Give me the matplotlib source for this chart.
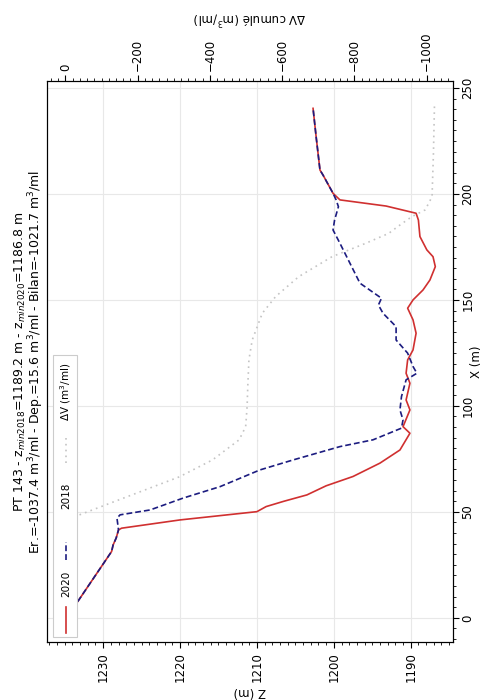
import matplotlib
matplotlib.use("Agg")
import matplotlib.pyplot as plt
from matplotlib.ticker import MultipleLocator
from matplotlib.lines import Line2D
from matplotlib.patches import Rectangle

# ---- data (X in m, Z in m, dV in m3/ml) ----
x_2020 = [7.7, 31.3, 34.4, 37.7, 41.5, 42.3, 46.2, 50.1, 52.5, 55.0, 58.0, 62.3, 66.7, 73.0,
          79.2, 87.1, 90.2, 98.1, 102.8, 110.7, 115.4, 121.7, 126.4, 134.3, 140.6, 146.1,
          150.0, 154.7, 159.4, 165.7, 170.4, 173.6, 179.9, 187.7, 190.9, 194.3, 197.2,
          200.3, 208.9, 211.3, 227.0, 240.4]
z_2020 = [1233.3, 1228.9, 1228.7, 1228.3, 1228.0, 1227.6, 1220.0, 1210.0, 1208.8, 1206.5,
          1203.5, 1201.0, 1197.5, 1194.0, 1191.4, 1190.1, 1191.0, 1190.1, 1190.6, 1190.1,
          1190.6, 1190.4, 1189.7, 1189.3, 1189.7, 1190.4, 1189.7, 1188.4, 1187.5, 1186.8,
          1187.1, 1187.9, 1188.8, 1189.0, 1189.3, 1193.2, 1199.2, 1200.1, 1201.4, 1201.8,
          1202.3, 1202.7]

x_2018 = [7.7, 31.3, 34.4, 37.7, 41.5, 47.0, 48.6, 50.9, 56.5, 61.9, 69.8, 74.5, 80.8, 84.0,
          89.5, 93.4, 98.1, 104.4, 112.3, 115.4, 118.6, 124.9, 131.1, 137.4, 143.7, 147.6,
          150.8, 157.9, 167.3, 176.7, 183.0, 187.7, 194.0, 197.2, 200.3, 208.9, 211.3,
          227.0, 240.4]
z_2018 = [1233.3, 1228.9, 1228.7, 1228.3, 1228.0, 1228.2, 1227.8, 1223.9, 1219.6, 1214.8,
          1209.6, 1205.3, 1199.2, 1194.9, 1191.2, 1191.0, 1191.4, 1191.2, 1190.6, 1189.2,
          1189.7, 1190.4, 1191.9, 1191.9, 1193.6, 1194.2, 1193.8, 1196.6, 1197.9, 1199.2,
          1200.1, 1199.9, 1199.4, 1199.7, 1200.1, 1201.4, 1201.8, 1202.3, 1202.7]

x_dv = [48.6, 66.5, 74.5, 84.0, 90.2, 99.7, 110.0, 121.7, 131.0, 143.7, 151.6, 161.0,
        170.4, 176.7, 181.4, 184.6, 189.3, 192.5, 198.7, 220.0, 241.9]
dv = [-39, -315, -407, -481, -499, -503, -505, -508, -517, -545, -582, -646, -738, -831,
      -895, -920, -959, -996, -1015, -1019, -1021.7]

title_lines = ["PT 143 - z$_{min2018}$=1189.2 m - z$_{min2020}$=1186.8 m",
               "Er.=-1037.4 m$^3$/ml - Dep.=15.6 m$^3$/ml - Bilan=-1021.7 m$^3$/ml"]
legend_labels = ["2020", "2018", "ΔV (m$^3$/ml)"]

C_2020 = "#d03030"
C_2018 = "#1c1c80"
C_DV = "#c4c4c4"
FS = 8.5

W, H = 485, 700
fig = plt.figure(figsize=(W / 100, H / 100), dpi=100)
L, R, T, B = 47, 453, 81, 642
ax = fig.add_axes([L / W, 1 - B / H, (R - L) / W, (B - T) / H])

ax.plot(z_2020, x_2020, color=C_2020, lw=1.2, zorder=3)
ax.plot(z_2018, x_2018, color=C_2018, lw=1.2, ls=(0, (3.5, 1.8)), zorder=4)
ax.set_xlim(1237.3, 1184.5)
ax.set_ylim(-11.4, 253.3)

ax.xaxis.set_major_locator(MultipleLocator(10))
ax.xaxis.set_minor_locator(MultipleLocator(1))
ax.yaxis.set_major_locator(MultipleLocator(50))
ax.yaxis.set_minor_locator(MultipleLocator(5))
ax.yaxis.tick_right()
ax.tick_params(axis="both", which="major", labelsize=FS, labelrotation=90, length=4)
ax.tick_params(axis="y", which="major", pad=2)
ax.tick_params(axis="both", which="minor", length=2)
for lab in ax.get_yticklabels():
    lab.set_va("center")
ax.grid(True, which="major", color="#e8e8e8", lw=0.8)
ax.set_axisbelow(True)
ax.set_xlabel("Z (m)", fontsize=FS, rotation=180, labelpad=2)
ax.set_ylabel("X (m)", fontsize=FS, rotation=90)
ax.yaxis.set_label_position("right")
ax.yaxis.label.set_ha("center")
ax.yaxis.label.set_va("center")
ax.yaxis.set_label_coords((477 - L) / (R - L), 0.5)

ax2 = ax.twiny()
ax2.plot(dv, x_dv, color=C_DV, lw=1.2, ls=(0, (1, 2.5)), zorder=2)
ax2.set_xlim(51, -1073)
ax2.xaxis.set_major_locator(MultipleLocator(200))
ax2.xaxis.set_minor_locator(MultipleLocator(20))
ax2.tick_params(axis="x", which="major", labelsize=FS, labelrotation=90, length=4)
ax2.tick_params(axis="x", which="minor", length=2)
ax2.set_xlabel("ΔV cumulé (m$^3$/ml)", fontsize=FS, rotation=180, labelpad=6)
ax.set_ylim(-11.4, 253.3)

# title (rotated, on the left)
fig.text(20 / W, 1 - 362 / H, title_lines[0], rotation=90, ha="center", va="center", fontsize=9)
fig.text(36 / W, 1 - 362 / H, title_lines[1], rotation=90, ha="center", va="center", fontsize=9)

# legend (rotated, drawn in axes coordinates)
def ax_xy(px, py):
    return (px - L) / (R - L), (B - py) / (B - T)

x0, y0 = ax_xy(53, 637)
x1, y1 = ax_xy(77, 355)
ax.add_patch(Rectangle((x0, y0), x1 - x0, y1 - y0, transform=ax.transAxes,
                       facecolor="white", edgecolor="#cccccc", lw=0.8, zorder=6))
entries = [(C_2020, "-", 633, 607, 584), (C_2018, (0, (3.5, 1.8)), 560, 542, 496),
           (C_DV, (0, (1, 2.5)), 463, 437, 392)]
for (col, ls, pa, pb, pt), lab in zip(entries, legend_labels):
    xa, ya = ax_xy(66, pa)
    _, yb = ax_xy(66, pb)
    ax.add_line(Line2D([xa, xa], [ya, yb], transform=ax.transAxes, color=col, lw=1.2,
                       ls=ls, zorder=7))
    xt, yt = ax_xy(66, pt)
    ax.text(xt, yt, lab, transform=ax.transAxes, rotation=90, ha="center", va="center",
            fontsize=7.5, zorder=7)

fig.savefig("out.png", dpi=100)
